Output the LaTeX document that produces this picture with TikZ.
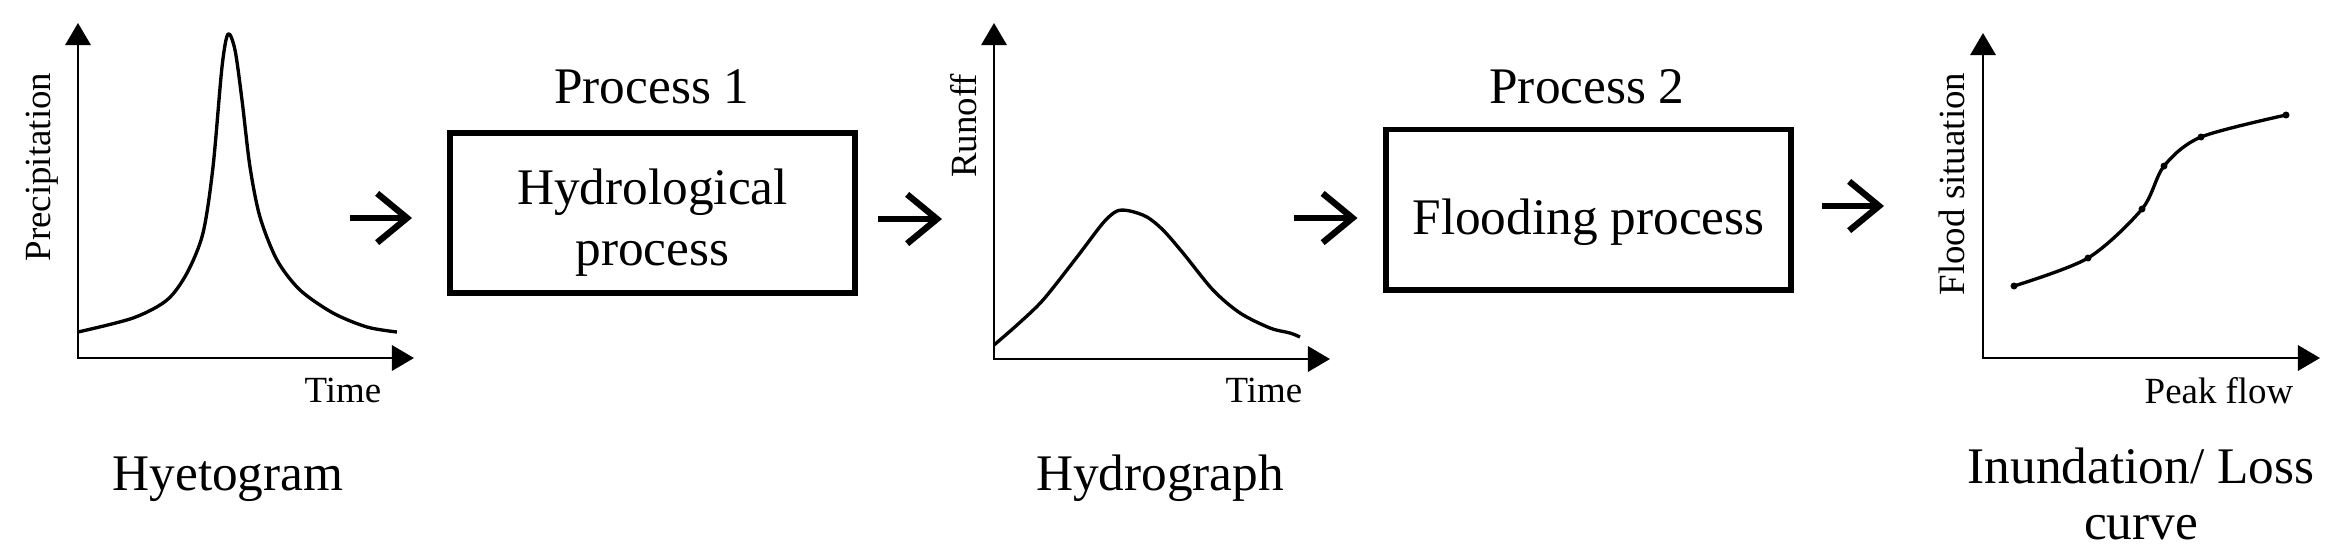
\documentclass[tikz,border=0pt]{standalone}
\usepackage{fontspec}
\setmainfont{Liberation Serif}
\usetikzlibrary{arrows.meta}

\begin{document}
\begin{tikzpicture}[>={Triangle[length=6.3pt,width=7.2pt]},
	axis/.style={line width=0.77pt,<->},
	hline/.style={line width=0.95pt,line join=round},
	flow/.style={line width=1.8pt,-{Straight Barb[length=8.5pt,width=14pt]}},
	procbox/.style={draw,line width=1.7pt,minimum width=4.05cm,minimum height=1.6cm,align=center,inner sep=0pt,font=\fontsize{14.6}{17.1}\selectfont},
	big/.style={font=\fontsize{14.6}{16.2}\selectfont},
	small/.style={font=\fontsize{10.5}{12}\selectfont}]
	\useasboundingbox (0,0) rectangle (23.33,5.5);
	% hyetogram
	\draw[axis] (0.78,5.27)--(0.78,1.92)--(4.14,1.92);
	\draw[hline,smooth] plot coordinates {(0.78,2.18) (1.33,2.32) (1.67,2.50) (1.87,2.77) (2.03,3.17) (2.13,3.83) (2.22,4.83) (2.28,5.16) (2.35,5.00) (2.42,4.50) (2.50,3.83) (2.60,3.33) (2.77,2.90) (3.00,2.60) (3.33,2.37) (3.67,2.23) (3.97,2.18)};
	\node[small,rotate=90] (prec) at (0.42,3.83) {Precipitation};
	\node[small,anchor=base] (time1) at (3.43,1.48) {Time};
	\node[big,anchor=base] (hyeto) at (2.28,0.60) {Hyetogram};
	% process 1
	\node[procbox,text height=32.8pt,text depth=3.2pt] (box1) at (6.525,3.37) {Hydrological\\process};
	\node[big,anchor=base] (proc1) at (6.52,4.47) {Process 1};
	\coordinate (in1) at (3.50,3.32);
	\coordinate (out1) at (9.42,3.31);
	\draw[flow,shorten >=0.35cm] (in1) -- (in1 -| box1.west);
	\draw[flow,shorten <=0.2cm] (out1 -| box1.east) -- (out1);
	% hydrograph
	\draw[axis] (9.94,5.27)--(9.94,1.91)--(13.30,1.91);
	\draw[hline,smooth] plot coordinates {(9.94,2.05) (10.17,2.25) (10.43,2.50) (10.77,2.93) (11.03,3.27) (11.17,3.39) (11.30,3.39) (11.47,3.33) (11.63,3.20) (11.83,2.97) (12.13,2.60) (12.40,2.37) (12.70,2.22) (12.90,2.17) (13.00,2.13)};
	\node[small,rotate=90] (runoff) at (9.64,4.24) {Runoff};
	\node[small,anchor=base] (time2) at (12.64,1.48) {Time};
	\node[big,anchor=base] (hydro) at (11.60,0.60) {Hydrograph};
	% process 2
	\node[procbox,text height=17.7pt,text depth=3.2pt] (box2) at (15.885,3.405) {Flooding process};
	\node[big,anchor=base] (proc2) at (15.87,4.47) {Process 2};
	\coordinate (in2) at (12.94,3.32);
	\coordinate (out2) at (18.84,3.44);
	\draw[flow,shorten >=0.255cm] (in2) -- (in2 -| box2.west);
	\draw[flow,shorten <=0.275cm] (out2 -| box2.east) -- (out2);
	% inundation / loss curve
	\draw[axis] (19.83,5.17)--(19.83,1.92)--(23.20,1.92);
	\draw[hline,smooth] plot coordinates {(20.14,2.64) (20.88,2.92) (21.42,3.41) (21.64,3.84) (22.01,4.13) (22.86,4.35)};
	\foreach \x/\y in {20.14/2.64,20.88/2.92,21.42/3.41,21.64/3.84,22.01/4.13,22.86/4.35}
		\fill (\x,\y) circle (0.035);
	\node[small,rotate=90] (flood) at (19.52,3.66) {Flood situation};
	\node[small,anchor=base] (peak) at (22.19,1.47) {Peak flow};
	\node[big,align=center,anchor=north] (loss) at (21.41,1.15) {Inundation/ Loss\\curve};
\end{tikzpicture}
\end{document}
